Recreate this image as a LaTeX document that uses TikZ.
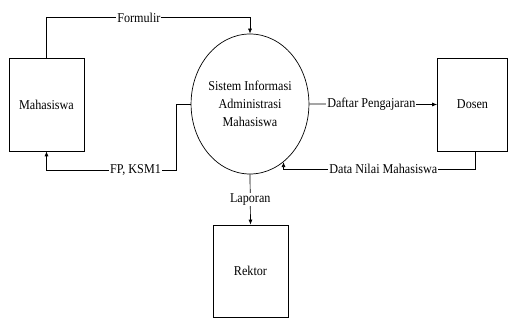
\documentclass[tikz,border=0pt]{standalone}
\usepackage{fontspec}
\setmainfont{LiberationSerif}[Extension=.ttf, UprightFont=*-Regular, BoldFont=*-Bold, FakeStretch=0.9]
\usetikzlibrary{calc, arrows, positioning, shapes.geometric}
\usetikzlibrary{arrows.meta}

\begin{document}
\begin{tikzpicture}[x=1pt, y=-1pt,
    font=\fontsize{13.5}{18}\selectfont,
    entity/.style={draw, line width=0.7pt, minimum width=75pt, minimum height=93pt, inner sep=0pt},
    process/.style={draw, ellipse, line width=0.7pt, minimum width=113pt, minimum height=140pt, align=center, inner sep=0pt},
    flow/.style={line width=0.7pt, -{Latex[length=5pt, width=4pt]}},
    lbl/.style={fill=white, inner sep=1pt}]

\useasboundingbox (0,0) rectangle (509,320);

\def \gap {14} % distance of the bends from the nodes

\node[entity] (mhs) at (46.5,104.5) {Mahasiswa};
\node[process] (sia) at (250,104) {Sistem Informasi\\Administrasi\\Mahasiswa};
\node[entity, minimum width=70pt] (dosen) at (472.5,104.5) {Dosen};
\node[entity, minimum height=92pt] (rektor) at (250.5,271) {Rektor};

\coordinate (dnm) at ($(sia.-60)+(0,7)$);

\draw[flow] (mhs.north) |- node[lbl, pos=0.727] {Formulir} ($(sia.north)+(0,-16)$) -- (sia.north);
\draw[flow] (sia.west) -- ++(-\gap,0) |- node[lbl, pos=0.658] {FP, KSM1} ($(mhs.south)+(0,19)$) -- (mhs.south);
\draw[flow] (sia.east) -- node[lbl, pos=0.485] {Daftar Pengajaran} (dosen.west);
\draw[flow] ($(dosen.south)+(3,0)$) |- node[lbl, pos=0.74] {Data Nilai Mahasiswa} (dnm) -- (sia.-60);
\draw[flow] (sia.south) -- node[lbl] {Laporan} (rektor.north);

\end{tikzpicture}
\end{document}
